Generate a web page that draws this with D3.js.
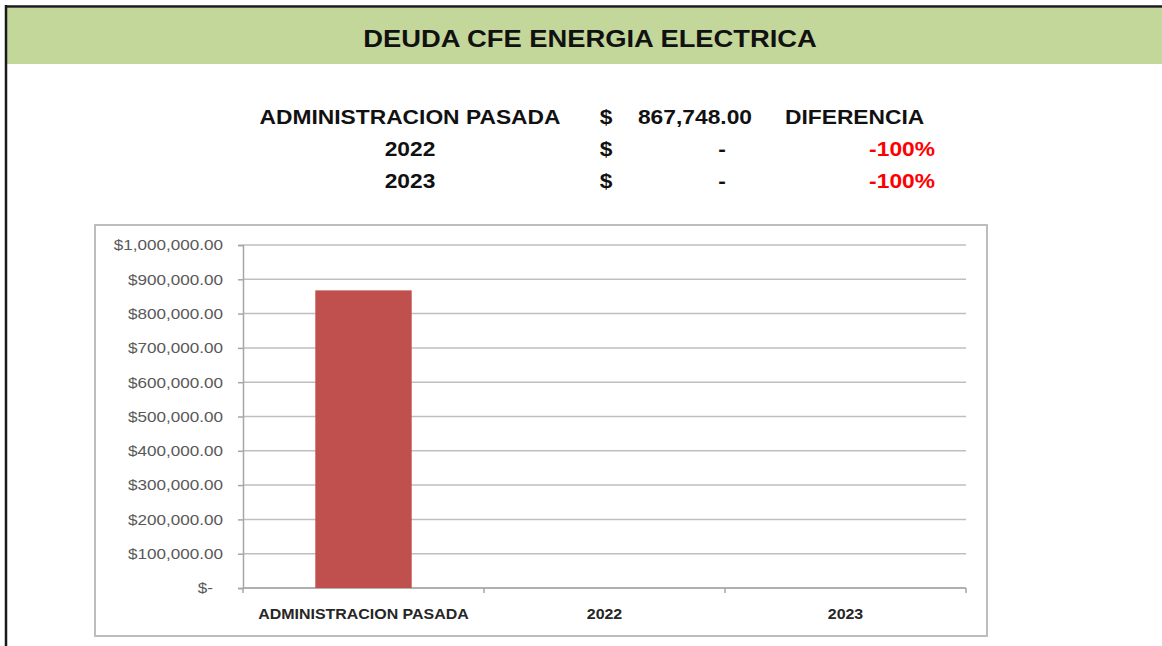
<!DOCTYPE html>
<html>
<head>
<meta charset="utf-8">
<script src="https://cdn.jsdelivr.net/npm/d3@7"></script>
<style>
  html, body { margin: 0; padding: 0; background: #fff; }
  svg { display: block; font-family: "Liberation Sans", Arial, sans-serif; }
</style>
</head>
<body>
<div id="chart"></div>
<script>
  // data
  var title = "DEUDA CFE ENERGIA ELECTRICA";
  var categories = ["ADMINISTRACION PASADA", "2022", "2023"];
  var values = [867748, 0, 0];
  var yTicks = [0, 100000, 200000, 300000, 400000, 500000, 600000, 700000, 800000, 900000, 1000000];
  var diffHeader = "DIFERENCIA";

  var W = 1162, H = 646;
  var SX = 1.14; // the source picture is a bit stretched sideways

  var svg = d3.select("#chart").append("svg")
    .attr("width", W)
    .attr("height", H);

  // sheet frame + green title band
  svg.append("rect")
    .attr("x", 7).attr("y", 8).attr("width", W - 7).attr("height", 56)
    .attr("fill", "#c4d79b");
  svg.append("line")
    .attr("x1", 5).attr("x2", W).attr("y1", 6.5).attr("y2", 6.5)
    .attr("stroke", "#1a1a1a").attr("stroke-width", 2.5);
  svg.append("line")
    .attr("x1", 6).attr("x2", 6).attr("y1", 5).attr("y2", H)
    .attr("stroke", "#1a1a1a").attr("stroke-width", 2.5);

  function label(g, x, y, txt, anchor) {
    return g.append("text")
      .attr("transform", "translate(" + x + "," + y + ") scale(" + SX + ",1)")
      .attr("text-anchor", anchor)
      .text(txt);
  }

  label(svg, 590, 47, title, "middle")
    .attr("font-size", 24).attr("font-weight", "bold").attr("fill", "#111");

  // summary table
  var fmtAmount = d3.format(",.2f");
  var fmtPct = function (d) { return d3.format(".0%")(d).replace("\u2212", "-"); };
  var base = values[0];
  var table = svg.append("g")
    .attr("font-size", 20).attr("font-weight", "bold").attr("fill", "#111");
  var rowY = [124, 156, 188];

  categories.forEach(function (c, i) {
    var y = rowY[i];
    label(table, 410, y, c, "middle");
    label(table, 606, y, "$", "middle");
    if (values[i] === 0) {
      label(table, 722, y, "-", "middle");
    } else {
      label(table, 752, y, fmtAmount(values[i]), "end");
    }
    if (i === 0) {
      label(table, 785, y, diffHeader, "start");
    } else {
      var diff = (values[i] - base) / base;
      label(table, 935, y, fmtPct(diff), "end").attr("fill", "#ff0000");
    }
  });

  // chart box
  svg.append("rect")
    .attr("x", 95).attr("y", 225).attr("width", 892).attr("height", 411)
    .attr("fill", "#fff")
    .attr("stroke", "#bdbdbd").attr("stroke-width", 2);

  var plot = { left: 243, right: 966, top: 245, bottom: 588 };

  var x = d3.scaleBand()
    .domain(categories)
    .range([plot.left, plot.right])
    .paddingInner(0.6)
    .paddingOuter(0.3);

  var y = d3.scaleLinear()
    .domain([0, 1000000])
    .range([plot.bottom, plot.top]);

  // gridlines
  svg.append("g")
    .selectAll("line")
    .data(yTicks)
    .enter().append("line")
    .attr("x1", plot.left).attr("x2", plot.right)
    .attr("y1", function (d) { return y(d); })
    .attr("y2", function (d) { return y(d); })
    .attr("stroke", "#bfbfbf").attr("stroke-width", 1.5);

  // y axis
  var fmtTick = function (d) { return d === 0 ? "$-" : "$" + fmtAmount(d); };
  var yAxis = svg.append("g")
    .attr("transform", "translate(" + plot.left + ",0)")
    .call(d3.axisLeft(y).tickValues(yTicks).tickSize(5).tickFormat(fmtTick));
  yAxis.select(".domain").attr("stroke", "#a6a6a6").attr("stroke-width", 1.5);
  yAxis.selectAll(".tick line").attr("stroke", "#a6a6a6").attr("stroke-width", 1.5);
  yAxis.selectAll(".tick text")
    .attr("font-family", "'Liberation Sans', Arial, sans-serif")
    .attr("font-size", 15)
    .attr("fill", "#595959")
    .attr("x", null)
    .attr("transform", function (d) { return "translate(" + (d === 0 ? -30 : -20) + ",0) scale(" + SX + ",1)"; });

  // x axis (ticks on category boundaries)
  var step = x.step();
  var bounds = d3.range(categories.length + 1).map(function (i) { return plot.left + i * step; });
  svg.append("line")
    .attr("x1", plot.left).attr("x2", plot.right)
    .attr("y1", plot.bottom).attr("y2", plot.bottom)
    .attr("stroke", "#a6a6a6").attr("stroke-width", 1.5);
  svg.append("g")
    .selectAll("line")
    .data(bounds)
    .enter().append("line")
    .attr("x1", function (d) { return d; }).attr("x2", function (d) { return d; })
    .attr("y1", plot.bottom).attr("y2", plot.bottom + 5)
    .attr("stroke", "#a6a6a6").attr("stroke-width", 1.5);

  var xl = svg.append("g")
    .attr("font-size", 14).attr("font-weight", "bold").attr("fill", "#262626");
  categories.forEach(function (c) {
    label(xl, x(c) + x.bandwidth() / 2, 619, c, "middle");
  });

  // bars
  svg.append("g")
    .selectAll("rect")
    .data(values)
    .enter().append("rect")
    .attr("x", function (d, i) { return x(categories[i]); })
    .attr("y", function (d) { return y(d); })
    .attr("width", x.bandwidth())
    .attr("height", function (d) { return plot.bottom - y(d); })
    .attr("fill", "#c0504d");
</script>
</body>
</html>
